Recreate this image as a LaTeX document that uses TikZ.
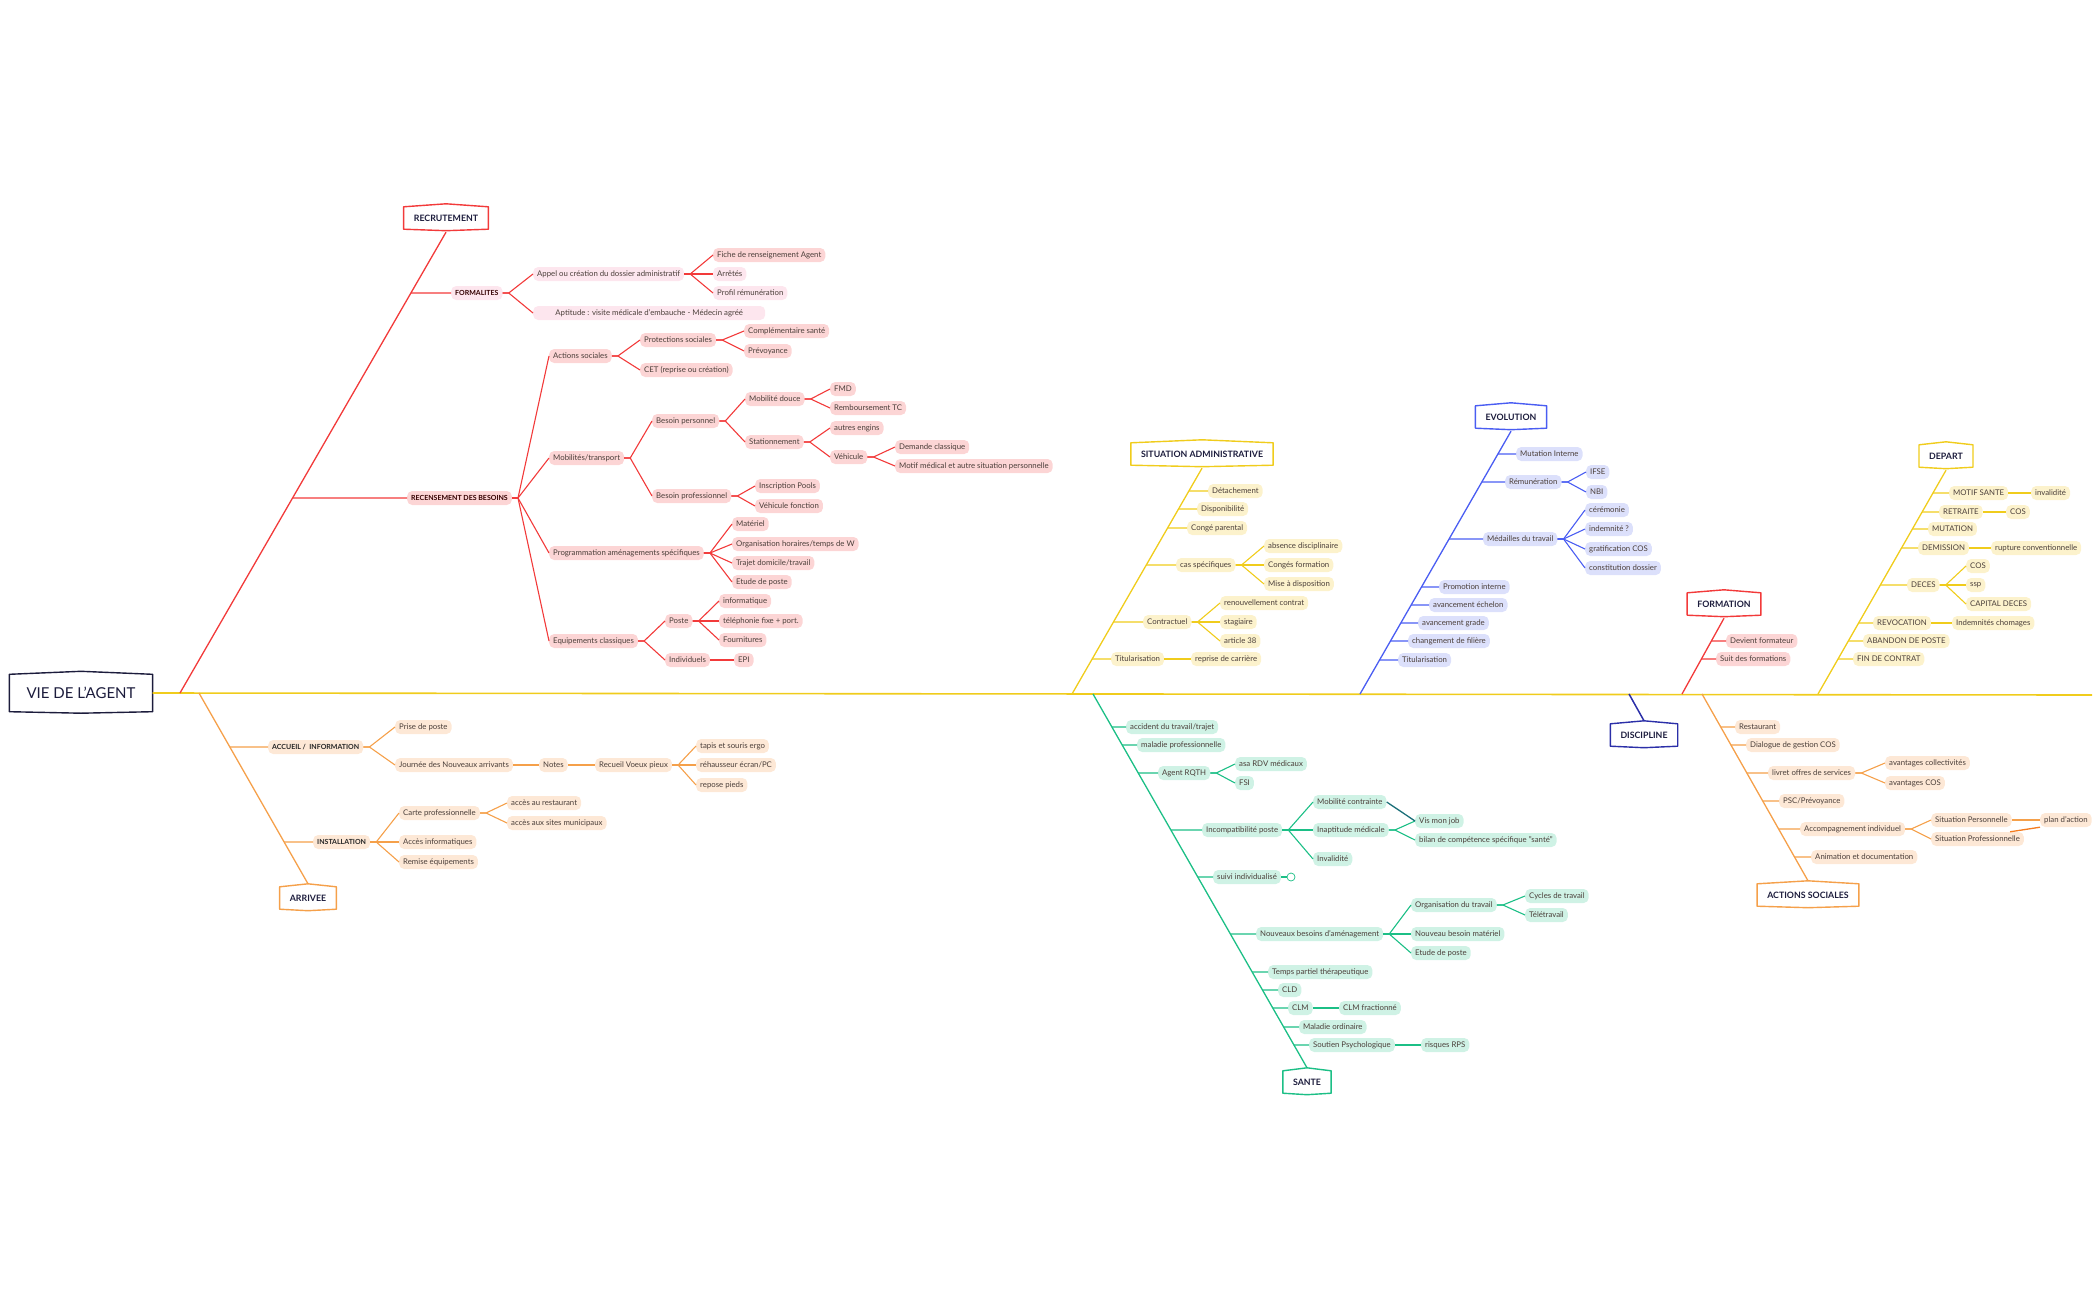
\documentclass[tikz,border=0pt]{standalone}
\usepackage{fontspec}
\setmainfont{Lato}
\usetikzlibrary{intersections,calc}
\definecolor{redL}{HTML}{F23A3A}
\definecolor{redF}{HTML}{FCD5D5}
\definecolor{pinkF}{HTML}{FDE6EE}
\definecolor{orL}{HTML}{F5A04A}
\definecolor{orF}{HTML}{FDE8D6}
\definecolor{orB}{HTML}{F57C1F}
\definecolor{yeL}{HTML}{F0CC1C}
\definecolor{yeF}{HTML}{FCF2CC}
\definecolor{blL}{HTML}{4A5DF2}
\definecolor{blF}{HTML}{DCE0FB}
\definecolor{grL}{HTML}{1CBF86}
\definecolor{grF}{HTML}{CFF2E5}
\definecolor{tealD}{HTML}{1A6E78}
\definecolor{txt}{HTML}{4B3F3A}
\definecolor{navy}{HTML}{1C1C3C}
\definecolor{discB}{HTML}{2B2FA8}
\newcommand\cboxline[2]{\draw[#2, line width=1.4pt, line join=round] (#1.south west) -- (#1.north west) -- ([yshift=3pt]#1.north) -- (#1.north east) -- (#1.south east) -- ([yshift=-1.5pt]#1.south) -- cycle;}
\newcommand\fk[3]{\draw[#1] (#2.east) -- ++(6,0) -- (#3.west);}
\newcommand\rib[3]{\path[name path=ribtmp] (#2.west) -- ++(-300,0);
  \draw[#3, name intersections={of=#1 and ribtmp, by={ribpt}}] (ribpt) -- (#2.west);}
\begin{document}
\begin{tikzpicture}[x=1pt,y=-1pt,
  leaf/.style={anchor=west, inner xsep=4pt, inner ysep=0pt, minimum height=14pt, rounded corners=5pt, font=\fontsize{7.8}{9}\selectfont, text=txt},
  nr/.style={leaf, fill=redF}, np/.style={leaf, fill=pinkF}, no/.style={leaf, fill=orF},
  ny/.style={leaf, fill=yeF}, nb/.style={leaf, fill=blF}, ng/.style={leaf, fill=grF},
  subcat/.style={leaf, font=\bfseries\fontsize{7}{8}\selectfont, text=black!80!red},
  catbox/.style={inner xsep=10pt, inner ysep=0pt, minimum height=22pt, font=\bfseries\fontsize{8.8}{10}\selectfont, text=navy},
  cl/.style={line width=1.1pt, line join=round},
  rl/.style={cl, draw=redL}, ol/.style={cl, draw=orL}, yl/.style={cl, draw=yeL},
  bl/.style={cl, draw=blL}, gl/.style={cl, draw=grL},
  bone/.style={line width=1.3pt}]
\useasboundingbox (0,0) rectangle (2100,1300);
% main
\node[catbox, minimum height=37pt, inner xsep=17pt, font=\fontsize{15}{18}\selectfont] (main) at (81,693) {VIE DE L'AGENT};
\cboxline{main}{navy}
\coordinate (spEnd) at (2092,695);
\draw[yeL, line width=1.6pt] (main.east) -- (spEnd);
\coordinate (sR) at (180,693);
\coordinate (sA) at (199,693);
\coordinate (sS) at (1072,694);
\coordinate (sSa) at (1093,694);
\coordinate (sE) at (1360,694);
\coordinate (sDi) at (1629,694);
\coordinate (sF) at (1682,694);
\coordinate (sAS) at (1702,694);
\coordinate (sD) at (1818,694);
% ================= RECRUTEMENT
\node[catbox] (rec) at (446,218) {RECRUTEMENT};
\cboxline{rec}{redL}
\draw[bone, redL, name path=bR] ([yshift=-3pt]rec.south) -- (sR);
\node[subcat, fill=pinkF] (formal) at (451,293) {FORMALITES};
\node[subcat, fill=redF] (recens) at (407,498) {RECENSEMENT DES BESOINS};
\rib{bR}{formal}{rl}
\rib{bR}{recens}{rl}
\node[np] (appel) at (533,274) {Appel ou création du dossier administratif};
\node[np, minimum width=232pt] (aptit) at (533,313) {Aptitude : visite médicale d'embauche - Médecin agréé};
\node[nr] (fiche) at (713,255) {Fiche de renseignement Agent};
\node[np] (arretes) at (713,274) {Arrêtés};
\node[np] (profil) at (713,293) {Profil rémunération};
\fk{rl}{formal}{appel} \fk{rl}{formal}{aptit}
\fk{rl}{appel}{fiche} \fk{rl}{appel}{arretes} \fk{rl}{appel}{profil}
\node[nr] (actsoc) at (549,356) {Actions sociales};
\node[nr] (mobil) at (549,458) {Mobilités/transport};
\node[nr] (progr) at (549,553) {Programmation aménagements spécifiques};
\node[nr] (equip) at (549,641) {Equipements classiques};
\fk{rl}{recens}{actsoc} \fk{rl}{recens}{mobil} \fk{rl}{recens}{progr} \fk{rl}{recens}{equip}
\node[nr] (protsoc) at (640,340) {Protections sociales};
\node[nr] (cet) at (640,370) {CET (reprise ou création)};
\fk{rl}{actsoc}{protsoc} \fk{rl}{actsoc}{cet}
\node[nr] (compl) at (744,331) {Complémentaire santé};
\node[nr] (prev) at (744,351) {Prévoyance};
\fk{rl}{protsoc}{compl} \fk{rl}{protsoc}{prev}
\node[nr] (bperso) at (652,421) {Besoin personnel};
\node[nr] (bpro) at (652,496) {Besoin professionnel};
\fk{rl}{mobil}{bperso} \fk{rl}{mobil}{bpro}
\node[nr] (mobdouce) at (745,399) {Mobilité douce};
\node[nr] (station) at (745,442) {Stationnement};
\fk{rl}{bperso}{mobdouce} \fk{rl}{bperso}{station}
\node[nr] (fmd) at (830,389) {FMD};
\node[nr] (rtc) at (830,408) {Remboursement TC};
\fk{rl}{mobdouce}{fmd} \fk{rl}{mobdouce}{rtc}
\node[nr] (autres) at (830,428) {autres engins};
\node[nr] (vehic) at (830,457) {Véhicule};
\fk{rl}{station}{autres} \fk{rl}{station}{vehic}
\node[nr] (demande) at (895,447) {Demande classique};
\node[nr] (motif) at (895,466) {Motif médical et autre situation personnelle};
\fk{rl}{vehic}{demande} \fk{rl}{vehic}{motif}
\node[nr] (pools) at (755,486) {Inscription Pools};
\node[nr] (vfonc) at (755,506) {Véhicule fonction};
\fk{rl}{bpro}{pools} \fk{rl}{bpro}{vfonc}
\node[nr] (materiel) at (732,524) {Matériel};
\node[nr] (orga) at (732,544) {Organisation horaires/temps de W};
\node[nr] (trajet) at (732,563) {Trajet domicile/travail};
\node[nr] (etudeR) at (732,582) {Etude de poste};
\fk{rl}{progr}{materiel} \fk{rl}{progr}{orga} \fk{rl}{progr}{trajet} \fk{rl}{progr}{etudeR}
\node[nr] (poste) at (665,621) {Poste};
\node[nr] (indiv) at (665,660) {Individuels};
\fk{rl}{equip}{poste} \fk{rl}{equip}{indiv}
\node[nr] (info) at (719,601) {informatique};
\node[nr] (tel) at (719,621) {téléphonie fixe + port.};
\node[nr] (fourn) at (719,640) {Fournitures};
\fk{rl}{poste}{info} \fk{rl}{poste}{tel} \fk{rl}{poste}{fourn}
\node[nr] (epi) at (734,660) {EPI};
\fk{rl}{indiv}{epi}
% ================= ARRIVEE
\node[catbox] (arr) at (308,898) {ARRIVEE};
\cboxline{arr}{orL}
\draw[bone, orL, name path=bA] (sA) -- ([yshift=3pt]arr.north);
\node[subcat, fill=orF, text=black!85] (accueil) at (268,747) {ACCUEIL /\ \ INFORMATION};
\node[subcat, fill=orF, text=black!85] (install) at (313,842) {INSTALLATION};
\rib{bA}{accueil}{ol}
\rib{bA}{install}{ol}
\node[no] (prise) at (395,727) {Prise de poste};
\node[no] (journee) at (395,765) {Journée des Nouveaux arrivants};
\fk{ol}{accueil}{prise} \fk{ol}{accueil}{journee}
\node[no] (notes) at (539,765) {Notes};
\node[no] (recueil) at (595,765) {Recueil Voeux pieux};
\fk{ol}{journee}{notes} \fk{ol}{notes}{recueil}
\node[no] (tapis) at (696,746) {tapis et souris ergo};
\node[no] (rehaus) at (696,765) {réhausseur écran/PC};
\node[no] (repose) at (696,785) {repose pieds};
\fk{ol}{recueil}{tapis} \fk{ol}{recueil}{rehaus} \fk{ol}{recueil}{repose}
\node[no] (carte) at (399,813) {Carte professionnelle};
\node[no] (acinfo) at (399,842) {Accès informatiques};
\node[no] (remise) at (399,862) {Remise équipements};
\fk{ol}{install}{carte} \fk{ol}{install}{acinfo} \fk{ol}{install}{remise}
\node[no] (acresto) at (507,803) {accès au restaurant};
\node[no] (acsites) at (507,823) {accès aux sites municipaux};
\fk{ol}{carte}{acresto} \fk{ol}{carte}{acsites}
% ================= SITUATION ADMINISTRATIVE
\node[catbox] (sitadm) at (1202,454) {SITUATION ADMINISTRATIVE};
\cboxline{sitadm}{yeL}
\draw[bone, yeL, name path=bS] ([yshift=-3pt]sitadm.south) -- (sS);
\node[ny] (detach) at (1208,491) {Détachement};
\node[ny] (dispo) at (1197,509) {Disponibilité};
\node[ny] (conge) at (1187,528) {Congé parental};
\node[ny] (cas) at (1176,565) {cas spécifiques};
\node[ny] (contr) at (1143,622) {Contractuel};
\node[ny] (titS) at (1111,659) {Titularisation};
\rib{bS}{detach}{yl} \rib{bS}{dispo}{yl} \rib{bS}{conge}{yl}
\rib{bS}{cas}{yl} \rib{bS}{contr}{yl} \rib{bS}{titS}{yl}
\node[ny] (absence) at (1264,546) {absence disciplinaire};
\node[ny] (congesf) at (1264,565) {Congés formation};
\node[ny] (mise) at (1264,584) {Mise à disposition};
\fk{yl}{cas}{absence} \fk{yl}{cas}{congesf} \fk{yl}{cas}{mise}
\node[ny] (renouv) at (1220,603) {renouvellement contrat};
\node[ny] (stag) at (1220,622) {stagiaire};
\node[ny] (art38) at (1220,641) {article 38};
\fk{yl}{contr}{renouv} \fk{yl}{contr}{stag} \fk{yl}{contr}{art38}
\node[ny] (reprise) at (1191,659) {reprise de carrière};
\fk{yl}{titS}{reprise}
% ================= EVOLUTION
\node[catbox] (evol) at (1511,417) {EVOLUTION};
\cboxline{evol}{blL}
\draw[bone, blL, name path=bE] ([yshift=-3pt]evol.south) -- (sE);
\node[nb] (mutint) at (1516,454) {Mutation Interne};
\node[nb] (remun) at (1505,482) {Rémunération};
\node[nb] (medail) at (1483,539) {Médailles du travail};
\node[nb] (promo) at (1439,587) {Promotion interne};
\node[nb] (avech) at (1429,605) {avancement échelon};
\node[nb] (avgr) at (1418,623) {avancement grade};
\node[nb] (chfil) at (1408,641) {changement de filière};
\node[nb] (titE) at (1398,660) {Titularisation};
\rib{bE}{mutint}{bl} \rib{bE}{remun}{bl} \rib{bE}{medail}{bl} \rib{bE}{promo}{bl}
\rib{bE}{avech}{bl} \rib{bE}{avgr}{bl} \rib{bE}{chfil}{bl} \rib{bE}{titE}{bl}
\node[nb] (ifse) at (1586,472) {IFSE};
\node[nb] (nbi) at (1586,492) {NBI};
\fk{bl}{remun}{ifse} \fk{bl}{remun}{nbi}
\node[nb] (cerem) at (1585,510) {cérémonie};
\node[nb] (indem) at (1585,529) {indemnité ?};
\node[nb] (gratif) at (1585,549) {gratification COS};
\node[nb] (constit) at (1585,568) {constitution dossier};
\fk{bl}{medail}{cerem} \fk{bl}{medail}{indem} \fk{bl}{medail}{gratif} \fk{bl}{medail}{constit}
% ================= FORMATION
\node[catbox] (form) at (1724,604) {FORMATION};
\cboxline{form}{redL}
\draw[bone, redL, name path=bF] ([yshift=-3pt]form.south) -- (sF);
\node[nr] (devient) at (1726,641) {Devient formateur};
\node[nr] (suit) at (1716,659) {Suit des formations};
\rib{bF}{devient}{rl} \rib{bF}{suit}{rl}
% ================= DEPART
\node[catbox] (depart) at (1946,456) {DEPART};
\cboxline{depart}{yeL}
\draw[bone, yeL, name path=bD] ([yshift=-3pt]depart.south) -- (sD);
\node[ny] (motifS) at (1949,493) {MOTIF SANTE};
\node[ny] (retraite) at (1939,512) {RETRAITE};
\node[ny] (mutation) at (1928,529) {MUTATION};
\node[ny] (demission) at (1918,548) {DEMISSION};
\node[ny] (deces) at (1907,585) {DECES};
\node[ny] (revoc) at (1873,623) {REVOCATION};
\node[ny] (abandon) at (1863,641) {ABANDON DE POSTE};
\node[ny] (fin) at (1853,659) {FIN DE CONTRAT};
\rib{bD}{motifS}{yl} \rib{bD}{retraite}{yl} \rib{bD}{mutation}{yl} \rib{bD}{demission}{yl}
\rib{bD}{deces}{yl} \rib{bD}{revoc}{yl} \rib{bD}{abandon}{yl} \rib{bD}{fin}{yl}
\node[ny] (inval) at (2031,493) {invalidité};
\node[ny] (cosDa) at (2006,512) {COS};
\node[ny] (rupture) at (1991,548) {rupture conventionnelle};
\fk{yl}{motifS}{inval} \fk{yl}{retraite}{cosDa} \fk{yl}{demission}{rupture}
\node[ny] (cosDb) at (1966,566) {COS};
\node[ny] (ssp) at (1966,585) {ssp};
\node[ny] (capital) at (1966,604) {CAPITAL DECES};
\fk{yl}{deces}{cosDb} \fk{yl}{deces}{ssp} \fk{yl}{deces}{capital}
\node[ny] (indch) at (1952,623) {Indemnités chomages};
\fk{yl}{revoc}{indch}
% ================= DISCIPLINE
\node[catbox, text=navy] (disc) at (1644,735) {DISCIPLINE};
\cboxline{disc}{discB}
\draw[bone, discB, line width=1.5pt] (sDi) -- ([yshift=3pt]disc.north);
% ================= ACTIONS SOCIALES
\node[catbox] (asoc) at (1808,895) {ACTIONS SOCIALES};
\cboxline{asoc}{orL}
\draw[bone, orL, name path=bAS] (sAS) -- ([yshift=3pt]asoc.north);
\node[no] (resto) at (1735,727) {Restaurant};
\node[no] (dialog) at (1746,745) {Dialogue de gestion COS};
\node[no] (livret) at (1768,773) {livret offres de services};
\node[no] (psc) at (1779,801) {PSC/Prévoyance};
\node[no] (accomp) at (1800,829) {Accompagnement individuel};
\node[no] (anim) at (1811,857) {Animation et documentation};
\rib{bAS}{resto}{ol} \rib{bAS}{dialog}{ol} \rib{bAS}{livret}{ol}
\rib{bAS}{psc}{ol} \rib{bAS}{accomp}{ol} \rib{bAS}{anim}{ol}
\node[no] (avcol) at (1885,763) {avantages collectivités};
\node[no] (avcos) at (1885,783) {avantages COS};
\fk{ol}{livret}{avcol} \fk{ol}{livret}{avcos}
\node[no] (sitperso) at (1931,820) {Situation Personnelle};
\node[no] (sitpro) at (1931,839) {Situation Professionnelle};
\fk{ol}{accomp}{sitperso} \fk{ol}{accomp}{sitpro}
\node[no] (plan) at (2040,820) {plan d'action};
\fk{ol}{sitperso}{plan}
\draw[orB, line width=1.3pt] ([xshift=-14pt]sitpro.north east) -- (plan.south west);
% ================= SANTE
\node[catbox] (sante) at (1307,1082) {SANTE};
\cboxline{sante}{grL}
\draw[bone, grL, name path=bSa] (sSa) -- ([yshift=3pt]sante.north);
\node[ng] (accid) at (1126,727) {accident du travail/trajet};
\node[ng] (malpro) at (1137,745) {maladie professionnelle};
\node[ng] (rqth) at (1158,773) {Agent RQTH};
\node[ng] (incompat) at (1202,830) {Incompatibilité poste};
\node[ng] (suivi) at (1213,877) {suivi individualisé};
\node[ng] (nouveaux) at (1256,934) {Nouveaux besoins d'aménagement};
\node[ng] (tpt) at (1268,972) {Temps partiel thérapeutique};
\node[ng] (cld) at (1278,990) {CLD};
\node[ng] (clm) at (1288,1008) {CLM};
\node[ng] (malord) at (1299,1027) {Maladie ordinaire};
\node[ng] (soutien) at (1309,1045) {Soutien Psychologique};
\rib{bSa}{accid}{gl} \rib{bSa}{malpro}{gl} \rib{bSa}{rqth}{gl} \rib{bSa}{incompat}{gl}
\rib{bSa}{suivi}{gl} \rib{bSa}{nouveaux}{gl} \rib{bSa}{tpt}{gl} \rib{bSa}{cld}{gl}
\rib{bSa}{clm}{gl} \rib{bSa}{malord}{gl} \rib{bSa}{soutien}{gl}
\node[ng] (asa) at (1235,764) {asa RDV médicaux};
\node[ng] (fsi) at (1235,783) {FSI};
\fk{gl}{rqth}{asa} \fk{gl}{rqth}{fsi}
\node[ng] (mobcontr) at (1313,802) {Mobilité contrainte};
\node[ng] (inapt) at (1313,830) {Inaptitude médicale};
\node[ng] (invalS) at (1313,859) {Invalidité};
\fk{gl}{incompat}{mobcontr} \fk{gl}{incompat}{inapt} \fk{gl}{incompat}{invalS}
\node[ng] (vis) at (1415,821) {Vis mon job};
\node[ng] (bilan) at (1415,840) {bilan de compétence spécifique "santé"};
\fk{gl}{inapt}{vis} \fk{gl}{inapt}{bilan}
\draw[tealD, line width=1.3pt] (mobcontr.east) -- (vis.west);
\node[circle, draw=grL, line width=0.7pt, inner sep=0pt, minimum size=8pt] (suivic) at (1291,877) {};
\draw[gl] (suivi.east) -- (suivic.west);
\node[ng] (orgtrav) at (1411,905) {Organisation du travail};
\node[ng] (nbm) at (1411,934) {Nouveau besoin matériel};
\node[ng] (etudeS) at (1411,953) {Etude de poste};
\fk{gl}{nouveaux}{orgtrav} \fk{gl}{nouveaux}{nbm} \fk{gl}{nouveaux}{etudeS}
\node[ng] (cycles) at (1525,896) {Cycles de travail};
\node[ng] (tele) at (1525,915) {Télétravail};
\fk{gl}{orgtrav}{cycles} \fk{gl}{orgtrav}{tele}
\node[ng] (clmf) at (1339,1008) {CLM fractionné};
\fk{gl}{clm}{clmf}
\node[ng] (rps) at (1421,1045) {risques RPS};
\fk{gl}{soutien}{rps}
\end{tikzpicture}
\end{document}
